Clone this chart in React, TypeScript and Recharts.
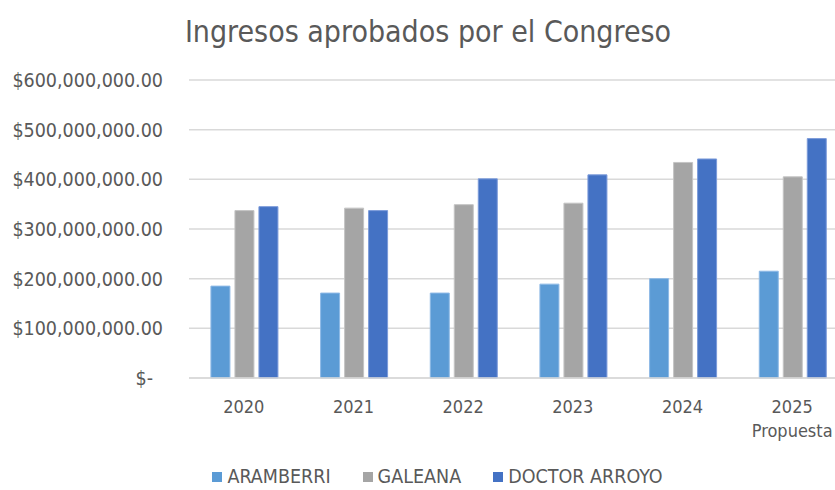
import React from "react";
import { BarChart, Bar, XAxis, YAxis, CartesianGrid } from "recharts";

const years = ["2020", "2021", "2022", "2023", "2024", "2025 Propuesta"];
const aramberri = [185000000, 171000000, 171000000, 189000000, 200000000, 215000000];
const galeana = [337000000, 342000000, 349000000, 352000000, 434000000, 405000000];
const doctorArroyo = [345000000, 337000000, 401000000, 409000000, 441000000, 482000000];
const yTicks = [0, 100000000, 200000000, 300000000, 400000000, 500000000, 600000000];

const FONT = "'DejaVu Sans Condensed', 'DejaVu Sans', sans-serif";
const TEXT = "#595959";

const chartData = years.map((year, i) => ({
  year,
  aramberri: aramberri[i],
  galeana: galeana[i],
  doctorArroyo: doctorArroyo[i],
}));

function formatMoney(v: number) {
  if (v === 0) return "$-";
  return "$" + v.toLocaleString("en-US", { minimumFractionDigits: 2, maximumFractionDigits: 2 });
}

function YTick(props: any) {
  const { x, y, payload } = props;
  const zero = payload.value === 0;
  return (
    <text x={zero ? x - 10 : x} y={y} dy={7} textAnchor="end" fill={TEXT} fontSize={19.5} fontFamily={FONT}>
      {formatMoney(payload.value)}
    </text>
  );
}

function XTick(props: any) {
  const { x, y, payload } = props;
  const lines = String(payload.value).split(" ");
  return (
    <text x={x} y={y} textAnchor="middle" fill={TEXT} fontSize={18} fontFamily={FONT}>
      {lines.map((l, i) => (
        <tspan key={i} x={x} dy={i === 0 ? 35 : 24}>
          {l}
        </tspan>
      ))}
    </text>
  );
}

const legendItems = [
  { name: "ARAMBERRI", color: "#5B9BD5" },
  { name: "GALEANA", color: "#A5A5A5" },
  { name: "DOCTOR ARROYO", color: "#4472C4" },
];

export default function App() {
  return (
    <div style={{ position: "absolute", left: 0, top: 0, width: 835, height: 490, overflow: "hidden", background: "#fff" }}>
      <div
        style={{
          position: "absolute",
          left: 0,
          top: 12,
          width: 856,
          textAlign: "center",
          fontFamily: FONT,
          fontSize: 30,
          color: TEXT,
          lineHeight: "40px",
        }}
      >
        Ingresos aprobados por el Congreso
      </div>
      <BarChart
        width={870}
        height={490}
        data={chartData}
        margin={{ top: 80, right: 23, left: 0, bottom: 52 }}
        barCategoryGap="20%"
        barGap={5}
      >
        <CartesianGrid vertical={false} stroke="#D9D9D9" strokeWidth={1.5} />
        <XAxis
          dataKey="year"
          height={60}
          axisLine={{ stroke: "#D9D9D9", strokeWidth: 1.5 }}
          tickLine={false}
          tickSize={0}
          tickMargin={0}
          tick={<XTick />}
          interval={0}
        />
        <YAxis
          width={189}
          domain={[0, 600000000]}
          ticks={yTicks}
          axisLine={false}
          tickLine={false}
          tickSize={0}
          tickMargin={26}
          tick={<YTick />}
        />
        <Bar dataKey="aramberri" name="ARAMBERRI" fill="#5B9BD5" stroke="#8DB9E6" strokeWidth={1} isAnimationActive={false} />
        <Bar dataKey="galeana" name="GALEANA" fill="#A5A5A5" stroke="#C4C4C4" strokeWidth={1} isAnimationActive={false} />
        <Bar dataKey="doctorArroyo" name="DOCTOR ARROYO" fill="#4472C4" stroke="#7C9BDA" strokeWidth={1} isAnimationActive={false} />
      </BarChart>
      <div
        style={{
          position: "absolute",
          left: 0,
          top: 465,
          width: 875,
          display: "flex",
          justifyContent: "center",
          gap: 32,
          fontFamily: FONT,
          fontSize: 19.5,
          lineHeight: "24px",
          height: 24,
          color: TEXT,
        }}
      >
        {legendItems.map((it) => (
          <div key={it.name} style={{ display: "flex", alignItems: "center" }}>
            <span style={{ width: 10, height: 10, background: it.color, marginRight: 5, display: "inline-block" }} />
            {it.name}
          </div>
        ))}
      </div>
    </div>
  );
}
